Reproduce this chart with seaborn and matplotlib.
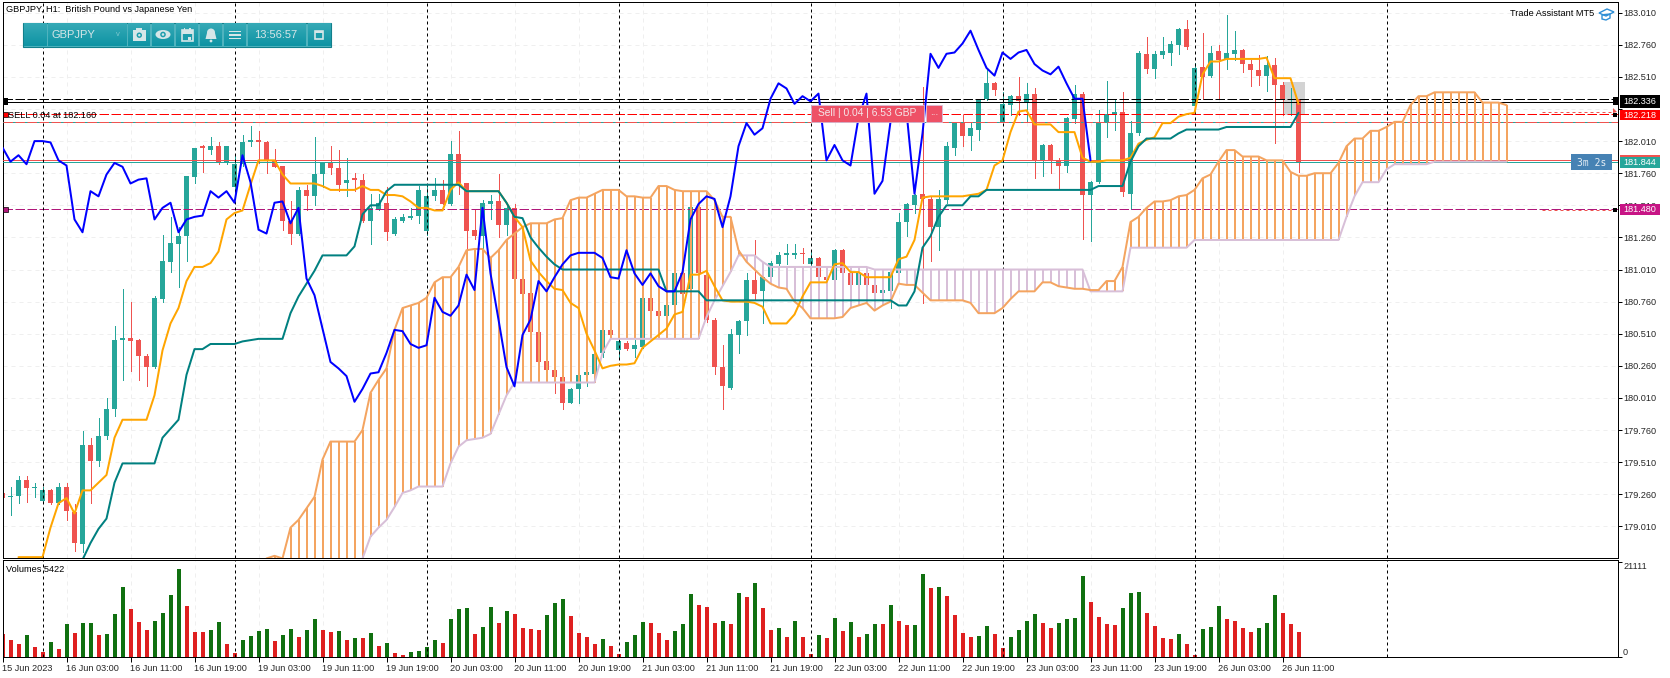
import numpy as np
import pandas as pd
import matplotlib
matplotlib.use("Agg")
import matplotlib.pyplot as plt
from matplotlib.colors import LinearSegmentedColormap
from matplotlib.patches import Rectangle, Circle, Ellipse, Polygon
import seaborn as sns

# GBPJPY H1, prices
open_p = [
    179.27, 179.24, 179.25, 179.37, 179.31, 179.21, 179.29, 179.19, 179.32, 179.12,
    178.87, 179.64, 179.52, 179.71, 179.92, 180.46, 180.48, 180.46, 180.34, 180.25,
    180.78, 181.07, 181.21, 181.27, 181.73, 181.97, 181.94, 181.97, 181.84, 181.65,
    181.83, 182.00, 182.02, 182.00, 181.86, 181.82, 181.39, 181.29, 181.63, 181.58,
    181.75, 181.84, 181.80, 181.68, 181.72, 181.71, 181.39, 181.48, 181.53, 181.29,
    181.39, 181.41, 181.43, 181.31, 181.58, 181.63, 181.52, 181.91, 181.68, 181.32,
    181.27, 181.52, 181.54, 181.36, 181.49, 180.94, 180.83, 180.52, 180.30, 180.23,
    180.17, 179.97, 180.08, 180.19, 180.20, 180.36, 180.54, 180.38, 180.44, 180.39,
    180.41, 180.79, 180.69, 180.65, 180.73, 180.98, 180.86, 181.50, 180.97, 180.62,
    180.25, 180.09, 180.50, 180.61, 180.93, 180.84, 180.95, 181.05, 181.12, 181.12,
    181.14, 181.05, 181.10, 180.95, 180.93, 181.16, 180.98, 180.89, 180.98, 180.89,
    180.83, 180.84, 180.98, 181.38, 181.51, 181.60, 181.56, 181.34, 181.55, 181.96,
    182.15, 182.05, 182.10, 182.34, 182.46, 182.16, 182.29, 182.36, 182.31, 182.38,
    181.86, 181.98, 181.86, 181.82, 182.18, 182.38, 181.59, 181.69, 182.15, 182.22,
    182.24, 181.60, 182.07, 182.69, 182.57, 182.68, 182.70, 182.76, 182.88, 182.28,
    182.59, 182.52, 182.71, 182.65, 182.69, 182.72, 182.61, 182.56, 182.52, 182.60,
    182.45, 182.33, 182.34,
]
close_p = [
    179.23, 179.25, 179.37, 179.31, 179.32, 179.29, 179.19, 179.32, 179.13, 178.88,
    179.64, 179.52, 179.71, 179.92, 180.46, 180.48, 180.45, 180.34, 180.25, 180.79,
    181.08, 181.22, 181.27, 181.74, 181.96, 181.96, 181.97, 181.84, 181.97, 181.83,
    182.00, 182.02, 182.00, 181.86, 181.81, 181.39, 181.29, 181.63, 181.58, 181.75,
    181.84, 181.80, 181.67, 181.71, 181.71, 181.39, 181.49, 181.53, 181.30, 181.40,
    181.42, 181.43, 181.63, 181.58, 181.63, 181.52, 181.91, 181.68, 181.31, 181.27,
    181.53, 181.54, 181.36, 181.49, 180.94, 180.82, 180.52, 180.29, 180.23, 180.17,
    179.97, 180.08, 180.19, 180.21, 180.35, 180.54, 180.50, 180.45, 180.39, 180.42,
    180.79, 180.69, 180.65, 180.73, 180.98, 180.82, 181.50, 180.98, 180.62, 180.25,
    180.10, 180.51, 180.61, 180.93, 180.82, 180.95, 181.06, 181.12, 181.14, 181.14,
    181.13, 181.10, 180.95, 180.93, 181.16, 180.98, 180.89, 180.98, 180.89, 180.83,
    180.85, 180.99, 181.38, 181.52, 181.59, 181.56, 181.34, 181.56, 181.97, 182.15,
    182.05, 182.11, 182.34, 182.46, 182.41, 182.30, 182.36, 182.32, 182.38, 181.86,
    181.98, 181.86, 181.82, 182.19, 182.38, 181.59, 181.69, 182.16, 182.22, 182.24,
    181.61, 182.07, 182.70, 182.57, 182.69, 182.71, 182.77, 182.88, 182.74, 182.58,
    182.51, 182.70, 182.64, 182.70, 182.72, 182.61, 182.56, 182.52, 182.60, 182.45,
    182.34, 182.34, 181.844,
]
high_p = [
    179.28, 179.32, 179.40, 179.40, 179.35, 179.32, 179.30, 179.35, 179.35, 179.18,
    179.75, 179.70, 179.85, 180.01, 180.57, 180.86, 180.76, 180.47, 180.35, 180.80,
    181.28, 181.42, 181.34, 181.74, 181.96, 181.98, 182.04, 182.00, 181.97, 181.90,
    182.06, 182.13, 182.09, 182.01, 181.95, 181.82, 181.54, 181.65, 181.67, 182.04,
    181.84, 181.97, 181.94, 181.88, 181.76, 181.75, 181.60, 181.60, 181.65, 181.42,
    181.44, 181.49, 181.66, 181.66, 181.72, 181.71, 182.01, 182.09, 181.68, 181.47,
    181.55, 181.59, 181.75, 181.53, 181.52, 180.94, 180.84, 180.53, 180.31, 180.24,
    180.18, 180.09, 180.30, 180.25, 180.36, 180.55, 180.55, 180.50, 180.45, 180.46,
    180.79, 180.80, 180.70, 180.77, 180.98, 181.00, 181.50, 181.51, 180.98, 180.63,
    180.42, 180.55, 180.62, 180.98, 181.24, 181.00, 181.08, 181.15, 181.21, 181.21,
    181.18, 181.16, 181.11, 180.96, 181.17, 181.17, 180.99, 180.99, 181.00, 180.90,
    180.86, 181.00, 181.45, 181.53, 181.60, 182.43, 181.58, 181.63, 182.00, 182.16,
    182.21, 182.16, 182.34, 182.58, 182.47, 182.39, 182.37, 182.51, 182.46, 182.42,
    181.99, 181.99, 181.88, 182.20, 182.45, 182.39, 181.70, 182.25, 182.48, 182.34,
    182.39, 182.17, 182.71, 182.82, 182.71, 182.82, 182.79, 182.89, 182.95, 182.62,
    182.85, 182.75, 182.76, 182.99, 182.87, 182.73, 182.64, 182.68, 182.67, 182.66,
    182.47, 182.42, 182.34,
]
low_p = [
    179.22, 179.10, 179.19, 179.20, 179.24, 179.21, 179.18, 179.18, 179.06, 178.82,
    178.81, 179.19, 179.48, 179.69, 179.87, 180.15, 180.22, 180.15, 180.10, 180.24,
    180.76, 180.99, 180.87, 181.08, 181.68, 181.77, 181.91, 181.83, 181.83, 181.60,
    181.82, 181.97, 181.84, 181.76, 181.81, 181.32, 181.21, 181.28, 181.47, 181.51,
    181.65, 181.75, 181.62, 181.58, 181.62, 181.38, 181.21, 181.47, 181.24, 181.28,
    181.38, 181.40, 181.37, 181.28, 181.55, 181.52, 181.51, 181.60, 181.16, 181.25,
    181.16, 181.40, 181.26, 181.28, 180.93, 180.80, 180.50, 180.27, 180.19, 180.05,
    179.92, 179.97, 179.97, 180.10, 180.19, 180.33, 180.48, 180.32, 180.38, 180.33,
    180.40, 180.66, 180.64, 180.63, 180.72, 180.80, 180.85, 180.96, 180.60, 180.20,
    179.92, 180.08, 180.36, 180.50, 180.78, 180.59, 180.94, 181.03, 181.05, 181.10,
    181.06, 181.03, 180.92, 180.91, 180.93, 180.96, 180.88, 180.88, 180.88, 180.81,
    180.82, 180.71, 180.97, 181.27, 181.45, 180.75, 181.08, 181.16, 181.53, 181.90,
    181.97, 181.94, 182.02, 182.33, 182.37, 182.16, 182.21, 182.21, 182.17, 181.72,
    181.74, 181.76, 181.64, 181.77, 182.15, 181.25, 181.23, 181.68, 182.04, 182.10,
    181.58, 181.48, 182.06, 182.54, 182.50, 182.66, 182.60, 182.69, 182.73, 182.27,
    182.34, 182.51, 182.34, 182.57, 182.64, 182.55, 182.44, 182.45, 182.40, 181.998,
    182.21, 182.21, 181.77,
]

volumes = [
    5100, 3770, 2890, 4880, 2220, 1110, 3330, 1780, 7330, 5330,
    7550, 7550, 4880, 5110, 9550, 15540, 10660, 7770, 5990, 7990,
    9770, 13760, 19540, 11320, 5550, 5500, 5990, 7770, 2890, 890,
    3770, 4660, 5770, 6220, 3550, 4880, 6220, 4440, 5990, 8440,
    5990, 5550, 5770, 3770, 4220, 4200, 5330, 2440, 3110, 890,
    440, 1110, 1330, 2220, 3770, 3110, 8440, 10660, 10880, 5110,
    6660, 11100, 7550, 10210, 9550, 6440, 6220, 5990, 9320, 11990,
    12880, 9100, 5330, 4440, 2890, 4000, 2440, 670, 3330, 4880,
    7770, 7550, 5330, 3770, 5770, 7330, 13990, 11540, 11100, 7550,
    7990, 7330, 14210, 13320, 16430, 10880, 5990, 6440, 4440, 7990,
    4440, 670, 4880, 4220, 8660, 5770, 7770, 4440, 5110, 7330,
    7300, 11540, 7990, 7100, 7100, 18430, 15320, 15540, 13540, 9320,
    5330, 4440, 4660, 6880, 5110, 2000, 4440, 5990, 7990, 9550,
    7550, 6440, 7550, 8440, 8660, 17980, 12210, 8880, 7330, 7100,
    10880, 14210, 14430, 9770, 6880, 4220, 4000, 5110, 2890, 440,
    6220, 6660, 11320, 8440, 7990, 6440, 5550, 6440, 7550, 13760,
    9770, 7330, 5550,
]

# Chikou, bars 0..136
chikou = [
    181.96, 181.85, 181.90, 181.83, 182.01, 182.01, 182.00, 181.86, 181.82, 181.40,
    181.30, 181.62, 181.58, 181.75, 181.84, 181.81, 181.68, 181.71, 181.72, 181.40,
    181.49, 181.53, 181.30, 181.40, 181.42, 181.43, 181.62, 181.57, 181.62, 181.53,
    181.90, 181.69, 181.32, 181.29, 181.53, 181.54, 181.37, 181.49, 180.94, 180.81,
    180.55, 180.29, 180.24, 180.18, 179.98, 180.08, 180.20, 180.21, 180.36, 180.54,
    180.53, 180.43, 180.40, 180.42, 180.79, 180.68, 180.65, 180.73, 180.97, 180.85,
    181.49, 180.98, 180.62, 180.25, 180.10, 180.50, 180.62, 180.92, 180.84, 180.95,
    181.05, 181.12, 181.14, 181.14, 181.14, 181.10, 180.95, 180.94, 181.16, 180.98,
    180.89, 180.98, 180.88, 180.84, 180.84, 180.99, 181.40, 181.52, 181.58, 181.56,
    181.34, 181.58, 181.97, 182.15, 182.06, 182.11, 182.34, 182.46, 182.42, 182.30,
    182.36, 182.32, 182.38, 181.86, 181.98, 181.86, 181.82, 182.19, 182.38, 181.60,
    181.70, 182.16, 182.22, 182.24, 181.60, 182.07, 182.69, 182.58, 182.69, 182.70,
    182.77, 182.87, 182.72, 182.58, 182.52, 182.70, 182.65, 182.70, 182.72, 182.61,
    182.56, 182.53, 182.59, 182.46, 182.34, 182.34, 181.86,
]
# Tenkan, bars 2..162
tenkan = [
    178.77, 178.77, 178.77, 178.77, 179.00, 179.19, 179.23, 179.11,
    179.29, 179.29, 179.35, 179.41, 179.70, 179.84, 179.84, 179.84, 179.84, 180.03,
    180.38, 180.59, 180.71, 180.92, 181.03, 181.03, 181.06, 181.15, 181.40, 181.45,
    181.47, 181.67, 181.86, 181.86, 181.86, 181.75, 181.68, 181.68, 181.68, 181.68,
    181.66, 181.63, 181.63, 181.63, 181.63, 181.66, 181.63, 181.63, 181.59, 181.59,
    181.58, 181.54, 181.49, 181.49, 181.47, 181.47, 181.63, 181.69, 181.62, 181.62,
    181.62, 181.62, 181.62, 181.53, 181.42, 181.34, 181.08, 180.99, 180.92, 180.86,
    180.85, 180.75, 180.71, 180.51, 180.38, 180.24, 180.26, 180.27, 180.27, 180.28,
    180.40, 180.45, 180.50, 180.55, 180.66, 180.68, 180.97, 180.97, 181.00, 180.88,
    180.77, 180.76, 180.76, 180.76, 180.75, 180.72, 180.59, 180.59, 180.59, 180.66,
    180.80, 180.91, 180.91, 180.91, 181.05, 181.06, 180.99, 180.99, 180.95, 180.95,
    180.95, 180.95, 181.09, 181.11, 181.24, 181.57, 181.58, 181.58, 181.58, 181.58,
    181.58, 181.59, 181.60, 181.63, 181.82, 181.86, 182.08, 182.24, 182.25, 182.14,
    182.14, 182.14, 182.08, 182.08, 182.08, 181.88, 181.85, 181.85, 181.86, 181.86,
    181.86, 181.88, 181.99, 182.02, 182.04, 182.15, 182.15, 182.20, 182.22, 182.23,
    182.53, 182.63, 182.63, 182.65, 182.65, 182.65, 182.65, 182.65, 182.66, 182.50,
    182.50, 182.50, 182.30,
]
# Kijun, bars 10..162
kijun = [
    178.75, 178.88, 178.99, 179.07, 179.35, 179.50, 179.50, 179.50, 179.50, 179.50,
    179.70, 179.77, 179.84, 180.19, 180.39, 180.39, 180.43, 180.43, 180.43, 180.43,
    180.45, 180.46, 180.47, 180.47, 180.47, 180.47, 180.67, 180.80, 180.90, 181.00,
    181.12, 181.12, 181.12, 181.12, 181.19, 181.44, 181.51, 181.51, 181.62, 181.67,
    181.67, 181.67, 181.67, 181.67, 181.67, 181.67, 181.67, 181.67, 181.62, 181.62,
    181.62, 181.62, 181.62, 181.53, 181.42, 181.41, 181.26, 181.18, 181.11, 181.05,
    181.01, 181.01, 181.01, 181.01, 181.01, 181.01, 181.01, 181.01, 181.01, 181.01,
    181.01, 181.01, 181.01, 180.84, 180.84, 180.84, 180.84, 180.84, 180.77, 180.77,
    180.77, 180.77, 180.77, 180.77, 180.77, 180.77, 180.77, 180.77, 180.77, 180.77,
    180.77, 180.77, 180.77, 180.77, 180.77, 180.77, 180.77, 180.77, 180.77, 180.77,
    180.77, 180.77, 180.73, 180.73, 180.84, 181.18, 181.27, 181.42, 181.51, 181.51,
    181.51, 181.58, 181.58, 181.63, 181.63, 181.63, 181.63, 181.63, 181.63, 181.63,
    181.63, 181.63, 181.63, 181.63, 181.63, 181.63, 181.63, 181.66, 181.66, 181.66,
    181.66, 181.85, 181.97, 182.03, 182.03, 182.03, 182.03, 182.07, 182.10, 182.10,
    182.10, 182.10, 182.10, 182.12, 182.12, 182.12, 182.12, 182.12, 182.12, 182.12,
    182.12, 182.12, 182.23,
]
# Senkou A and B, bars 33..188 (B is below the pane up to bar 44)
span_a = [
    178.76, 178.78, 178.76, 179.00, 179.06, 179.15, 179.24,
    179.53, 179.67, 179.67, 179.67, 179.67, 179.76, 180.05, 180.15, 180.24, 180.54,
    180.71, 180.73, 180.75, 180.79, 180.91, 180.95, 180.95, 181.03, 181.16, 181.17,
    181.17, 181.10, 181.16, 181.24, 181.29, 181.34, 181.37, 181.37, 181.37, 181.40,
    181.41, 181.55, 181.57, 181.57, 181.60, 181.63, 181.63, 181.63, 181.58, 181.58,
    181.57, 181.57, 181.66, 181.66, 181.63, 181.62, 181.62, 181.62, 181.62, 181.55,
    181.42, 181.42, 181.16, 181.07, 181.01, 180.95, 180.90, 180.87, 180.86, 180.76,
    180.71, 180.63, 180.63, 180.63, 180.63, 180.64, 180.71, 180.73, 180.75, 180.69,
    180.73, 180.76, 180.90, 180.89, 180.89, 180.83, 180.77, 180.77, 180.77, 180.77,
    180.77, 180.75, 180.67, 180.67, 180.67, 180.71, 180.78, 180.84, 180.84, 180.84,
    180.91, 180.91, 180.88, 180.87, 180.86, 180.86, 180.85, 180.85, 180.92, 180.92,
    181.03, 181.38, 181.42, 181.49, 181.54, 181.54, 181.55, 181.58, 181.59, 181.63,
    181.72, 181.75, 181.85, 181.94, 181.94, 181.89, 181.89, 181.89, 181.86, 181.86,
    181.86, 181.77, 181.74, 181.74, 181.76, 181.76, 181.76, 181.84, 181.97, 182.03,
    182.03, 182.09, 182.09, 182.12, 182.16, 182.16, 182.29, 182.36, 182.36, 182.39,
    182.39, 182.39, 182.39, 182.39, 182.39, 182.31, 182.31, 182.31, 182.29,
]
span_b = [
    178.50, 178.50, 178.50, 178.50, 178.50, 178.50, 178.50,
    178.50, 178.50, 178.50, 178.50, 178.50, 178.76, 178.93, 179.00, 179.06, 179.16,
    179.27, 179.29, 179.32, 179.32, 179.32, 179.32, 179.50, 179.63, 179.68, 179.69,
    179.70, 179.73, 179.88, 180.03, 180.13, 180.13, 180.13, 180.13, 180.13, 180.13,
    180.13, 180.13, 180.13, 180.13, 180.13, 180.36, 180.47, 180.47, 180.47, 180.47,
    180.47, 180.47, 180.47, 180.47, 180.47, 180.47, 180.47, 180.47, 180.64, 180.77,
    180.88, 180.99, 181.12, 181.12, 181.12, 181.07, 181.03, 181.03, 181.03, 181.03,
    181.03, 181.03, 181.03, 181.03, 181.03, 181.03, 181.03, 181.03, 181.03, 181.01,
    181.01, 181.01, 181.01, 181.01, 181.01, 181.01, 181.01, 181.01, 181.01, 181.01,
    181.01, 181.01, 181.01, 181.01, 181.01, 181.01, 181.01, 181.01, 181.01, 181.01,
    181.01, 181.01, 181.01, 181.01, 181.01, 181.01, 180.84, 180.84, 180.84, 180.84,
    180.84, 181.18, 181.18, 181.18, 181.18, 181.18, 181.18, 181.18, 181.18, 181.24,
    181.24, 181.24, 181.24, 181.24, 181.24, 181.24, 181.24, 181.24, 181.24, 181.24,
    181.24, 181.24, 181.24, 181.24, 181.24, 181.24, 181.24, 181.24, 181.42, 181.58,
    181.69, 181.69, 181.69, 181.79, 181.83, 181.83, 181.83, 181.83, 181.83, 181.85,
    181.85, 181.85, 181.85, 181.85, 181.85, 181.85, 181.85, 181.85, 181.85,
]

date_labels = [
    "15 Jun 2023", "16 Jun 03:00", "16 Jun 11:00", "16 Jun 19:00", "19 Jun 03:00",
    "19 Jun 11:00", "19 Jun 19:00", "20 Jun 03:00", "20 Jun 11:00", "20 Jun 19:00",
    "21 Jun 03:00", "21 Jun 11:00", "21 Jun 19:00", "22 Jun 03:00", "22 Jun 11:00",
    "22 Jun 19:00", "23 Jun 03:00", "23 Jun 11:00", "23 Jun 19:00", "26 Jun 03:00",
    "26 Jun 11:00",
]
price_ticks = [
    183.01, 182.76, 182.51, 182.26, 182.01, 181.76, 181.51, 181.26, 181.01,
    180.76, 180.51, 180.26, 180.01, 179.76, 179.51, 179.26, 179.01,
]
day_breaks = [5, 29, 53, 77, 101, 125, 149, 173]

sns.set_theme(style="white")
plt.rcParams['font.family'] = ['Liberation Sans', 'DejaVu Sans']
plt.rcParams['font.size'] = 6.6
plt.rcParams['axes.unicode_minus'] = False

W, H = 1670, 678
PX = 0.72
UP, DOWN = "#26a69a", "#ef5350"
fig = plt.figure(figsize=(W / 100, H / 100), dpi=100, facecolor="white")


def pane(top, bottom):
    return fig.add_axes([2.5 / W, 1 - bottom / H, (1617.5 - 2.5) / W, (bottom - top) / H])


ax = pane(2.3, 558.3)
axv = pane(560.3, 657)

bars = np.arange(len(open_p))
open_a, close_a = np.array(open_p), np.array(close_p)
rising = close_a >= open_a
candle_colors = [UP if r else DOWN for r in rising]

# sell marker box behind the last bars
ax.add_patch(Rectangle((160, 182.21), 2.77, 0.26, fc="#d3d3d3", ec="none", zorder=1.5))

ax.vlines(bars, low_p, high_p, colors=candle_colors, lw=1 * PX, zorder=2, antialiased=False)
ax.bar(bars, np.abs(close_a - open_a).clip(0.006), bottom=np.minimum(open_a, close_a),
       width=0.62, color=candle_colors, linewidth=0, zorder=2, antialiased=False)

# price lines
ax.axhline(182.336, color="black", lw=PX, ls=(0, (9.5, 2.5)), zorder=3)
ax.axhline(182.312, color="black", lw=PX, zorder=3)
ax.axhline(182.218, color="red", lw=PX, ls=(0, (9.5, 2.5)), zorder=3)
ax.axhline(182.16, color=UP, lw=PX, zorder=3)
ax.axhline(182.16, color=DOWN, lw=PX, ls=(0, (9.5, 2.5)), zorder=3)
ax.axhline(181.86, color=DOWN, lw=PX, zorder=3)
ax.axhline(181.844, color=UP, lw=PX, zorder=3)
ax.axhline(181.48, color="#b0187a", lw=PX, ls=(0, (9.5, 2.5)), zorder=3)

# ichimoku cloud, one stroke per bar
span_bars = np.arange(33, 33 + len(span_a))
a_arr, b_arr = np.array(span_a), np.array(span_b)
ax.vlines(span_bars, a_arr, b_arr,
          colors=["#f4a460" if a >= b else "#d8bfd8" for a, b in zip(a_arr, b_arr)],
          lw=2 * PX, zorder=3.2, antialiased=False)

sns.lineplot(x=span_bars, y=span_b, color="#d8bfd8", linewidth=2 * PX, ax=ax,
             estimator=None, zorder=3.4)
sns.lineplot(x=span_bars, y=span_a, color="#f4a460", linewidth=2 * PX, ax=ax,
             estimator=None, zorder=3.5)
sns.lineplot(x=np.arange(2, 2 + len(tenkan)), y=tenkan, color="#ffa500", linewidth=2 * PX,
             ax=ax, estimator=None, zorder=4)
sns.lineplot(x=np.arange(10, 10 + len(kijun)), y=kijun, color="#008080", linewidth=2 * PX,
             ax=ax, estimator=None, zorder=4.1)
sns.lineplot(x=np.arange(len(chikou)), y=chikou, color="#0000ff", linewidth=2 * PX,
             ax=ax, estimator=None, zorder=4.2)

# volumes, green when the bar is at least as big as the previous one
vol_df = pd.DataFrame({"bar": bars, "vol": volumes})
vol_df["dir"] = np.where(vol_df["vol"].diff().fillna(-1) >= 0, "up", "down")
sns.barplot(data=vol_df, x="bar", y="vol", hue="dir", native_scale=True, dodge=False,
            palette={"up": "#008000", "down": "#ff0000"}, width=0.5, linewidth=0,
            legend=False, ax=axv, zorder=2, antialiased=False)

x_ticks = np.arange(0, 8 * len(date_labels), 8)
for a in (ax, axv):
    a.set_xlim(0, (1617.5 - 2.5) / 8)
    a.set_facecolor("white")
    a.set_axisbelow(True)
    a.set_xlabel("")
    a.set_ylabel("")
    a.xaxis.grid(True, color="#efefef", lw=PX, ls=(0, (4, 4)))
    for s in a.spines.values():
        s.set_visible(True)
        s.set_color("black")
        s.set_linewidth(PX)
    for d in day_breaks:
        a.axvline(d, color="black", lw=PX, ls=(0, (3, 3)), zorder=3.1)

ax.set_ylim(178.761, 183.091)
ax.yaxis.tick_right()
ax.set_yticks(price_ticks)
# 182.260 sits completely under the price tags in the terminal
ax.set_yticklabels(["" if p == 182.26 else f"{p:.3f}" for p in price_ticks])
ax.yaxis.grid(True, color="#efefef", lw=PX, ls=(0, (4, 4)))
ax.tick_params(axis="y", right=True, length=3, width=PX, pad=1, labelsize=6.6, color="black")
ax.set_xticks(x_ticks)
ax.tick_params(axis="x", bottom=False, labelbottom=False)

axv.set_ylim(0, 21460)
axv.yaxis.tick_right()
axv.set_yticks([0, 21111])
axv.set_yticklabels(["0", "21111"])
axv.tick_params(axis="y", right=True, length=3, width=PX, pad=1, labelsize=6.6, color="black")
axv.get_yticklabels()[0].set_va("bottom")
axv.get_yticklabels()[1].set_va("top")
axv.yaxis.grid(False)
axv.set_xticks(x_ticks)
axv.set_xticklabels(date_labels, ha="left")
axv.tick_params(axis="x", bottom=True, length=3.5, width=PX, pad=1.5, labelsize=6.6, color="black")

# everything below is the terminal's overlay, in screen pixels
ov = fig.add_axes([0, 0, 1, 1], zorder=20)
ov.axis("off")
ov.patch.set_visible(False)

# price tags on the scale
for y0, y1, txt, bg in [
    (95, 108, "182.336", "black"),
    (109.5, 120, "182.218", "red"),
    (157, 168, "181.844", UP),
    (204, 214.5, "181.480", "#c71585"),
]:
    ov.add_patch(Rectangle((1620, y0), 40, y1 - y0, fc=bg, ec="none"))
    ov.text(1640, (y0 + y1) / 2 + 0.3, txt, color="white", fontsize=6.6, va="center", ha="center")
ov.add_patch(Rectangle((1620, 155), 40, 2, fc=DOWN, ec="none"))

ov.text(6.5, 9.5, "GBPJPY, H1:  British Pound vs Japanese Yen", fontsize=6.6, va="center", color="black")
ov.text(6.5, 569.5, "Volumes 5422", fontsize=6.6, va="center", color="black")
ov.text(8, 115.5, "SELL 0.04 at 182.160", fontsize=6.6, va="center", color="black")
ov.text(1594, 13.5, "Trade Assistant MT5", fontsize=6.6, va="center", ha="right", color="black")
ov.add_patch(Polygon([(1599, 13), (1607, 9), (1614, 12), (1606, 16)], fc="none", ec="#2f8fd6", lw=1))
ov.add_patch(Polygon([(1602, 15), (1602, 19), (1606, 20), (1610, 18), (1610, 14)], fc="none", ec="#2f8fd6", lw=1))

# toolbar
ICON = "#d5e6e8"
BAR = "#1b9dac"
shade = LinearSegmentedColormap.from_list("bar", ["#35a9b6", "#0f94a4"])
ov.add_patch(Rectangle((22.5, 23), 308.5, 24, fc="#4fb3be", ec="#127f8b", lw=0.8))
for x0, x1 in [(23.5, 46), (47.5, 126), (128, 150), (152, 174), (176, 198), (200, 222),
               (224, 246), (248, 306), (308, 330.5)]:
    ov.imshow(np.linspace(0, 1, 12)[:, None], cmap=shade, extent=(x0, x1, 46.2, 23.8),
              aspect="auto", zorder=1)
ov.text(51, 34.5, "GBPJPY", fontsize=8, color=ICON, va="center", zorder=3)
ov.text(118, 34, "v", fontsize=5.5, color="#7fc9d0", va="center", ha="center", zorder=3)
ov.text(276, 34.5, "13:56:57", fontsize=8, color=ICON, va="center", ha="center", zorder=3)
icons = []
# camera
icons.append(Rectangle((132.5, 30), 13.5, 10.5, fc=ICON, ec="none"))
icons.append(Rectangle((136, 28), 6, 2.5, fc=ICON, ec="none"))
icons.append(Circle((139.3, 35.2), 2.7, fc=BAR, ec="none"))
icons.append(Circle((139.3, 35.2), 1.2, fc=ICON, ec="none"))
# eye
icons.append(Ellipse((163, 34.5), 15, 9, fc=ICON, ec="none"))
icons.append(Circle((163, 34.5), 2.8, fc=BAR, ec="none"))
icons.append(Circle((163, 34.5), 1.3, fc=ICON, ec="none"))
# calendar
icons.append(Rectangle((181.5, 30), 11, 11, fc=BAR, ec=ICON, lw=1.2))
icons.append(Rectangle((181.5, 30), 11, 3.5, fc=ICON, ec="none"))
icons.append(Rectangle((183.5, 28), 1.5, 2.5, fc=ICON, ec="none"))
icons.append(Rectangle((189, 28), 1.5, 2.5, fc=ICON, ec="none"))
icons.append(Rectangle((187.5, 36.5), 3, 3, fc=ICON, ec="none"))
# bell
icons.append(Circle((211, 32.5), 4, fc=ICON, ec="none"))
icons.append(Polygon([(207, 33), (205.5, 39), (216.5, 39), (215, 33)], fc=ICON, ec="none"))
icons.append(Circle((211, 41), 1.4, fc=ICON, ec="none"))
# menu
for yy in (30.5, 34, 37.5):
    icons.append(Rectangle((229, yy), 12, 1.7, fc=ICON, ec="none"))
# window
icons.append(Rectangle((315, 31), 7.5, 7.5, fc=BAR, ec=ICON, lw=1.2))
icons.append(Rectangle((315, 31), 7.5, 2, fc=ICON, ec="none"))
for p in icons:
    p.set_zorder(3)
    ov.add_patch(p)

# Sell trade tag
ov.add_patch(Rectangle((811, 104.5), 113, 17, fc="#ee5166", ec="#d8bfd8", lw=0.6))
ov.add_patch(Rectangle((926, 104.5), 16, 17, fc="#ee5166", ec="#d8bfd8", lw=0.6))
ov.text(867.5, 113, "Sell | 0.04 | 6.53 GBP", fontsize=7.4, color="#f5e6e8", va="center", ha="center")
ov.text(934, 112, "...", fontsize=7.4, color="#f5e6e8", va="center", ha="center")

# countdown tag
ov.add_patch(Rectangle((1571, 154), 41, 16, fc="#4682b4", ec="none"))
ov.text(1591.5, 162.5, "3m 2s", fontsize=7, color="#e6eef5", va="center", ha="center",
        family=["DejaVu Sans Mono", "DejaVu Sans"])

# handles on the price lines
ov.add_patch(Rectangle((2.5, 97.5), 5, 7, fc="black", ec="none"))
ov.add_patch(Rectangle((3, 112), 4.5, 4.5, fc="red", ec="black", lw=0.5))
ov.add_patch(Rectangle((3, 207), 4.5, 4.5, fc="#b0187a", ec="black", lw=0.5))
ov.add_patch(Rectangle((1612.5, 97), 5, 7.5, fc="black", ec="none"))
ov.add_patch(Rectangle((1613, 113), 4, 4, fc="black", ec="none"))
ov.add_patch(Rectangle((1613, 207.5), 4, 4, fc="black", ec="none"))
ov.add_patch(Polygon([(1613, 108), (1617, 112), (1613, 113)], fc=DOWN, ec="none"))
ov.plot([1542, 1612], [111.7, 111.7], color=DOWN, lw=PX, ls=(0, (3, 3)))
ov.plot([1542, 1612], [210.2, 210.2], color=DOWN, lw=PX, ls=(0, (3, 3)))

ov.set_xlim(0, W)
ov.set_ylim(H, 0)

fig.savefig("out.png", dpi=100)
